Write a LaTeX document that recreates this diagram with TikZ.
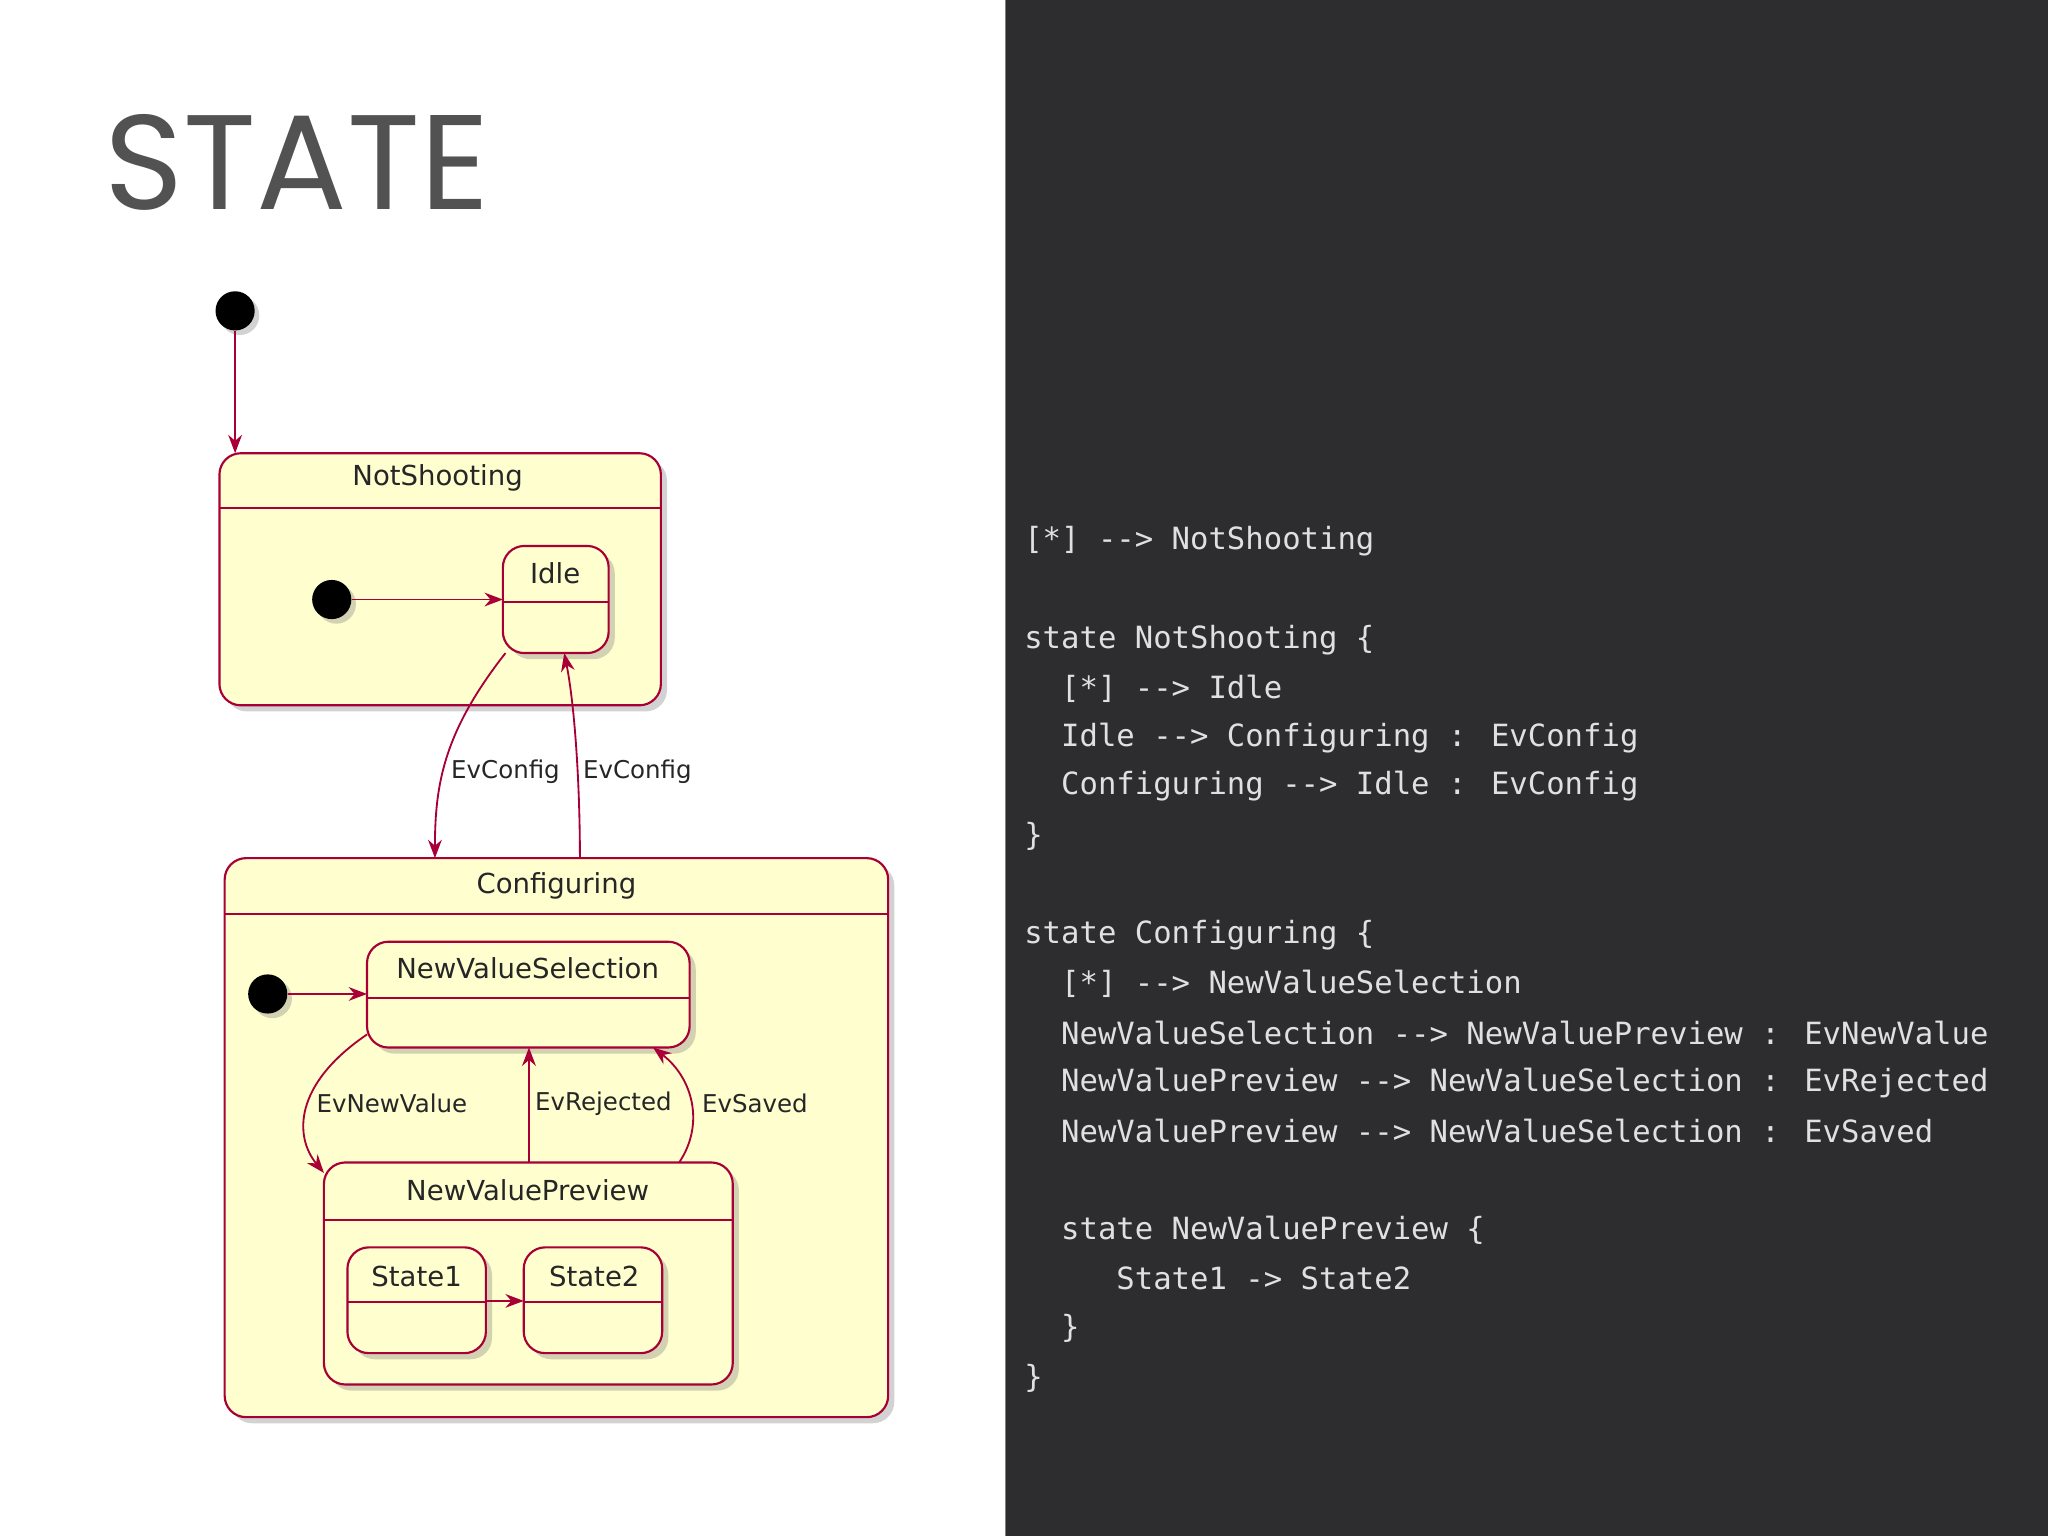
\documentclass[tikz,border=0pt]{standalone}
\usepackage{fontspec}
\setmainfont{DejaVu Sans}
\newfontfamily\monof{DejaVu Sans Mono}
\newfontfamily\titlef{Poppins}
\usetikzlibrary{shadows,arrows.meta}
\definecolor{pfill}{HTML}{FEFECE}
\definecolor{pline}{HTML}{A80036}
\definecolor{panel}{HTML}{2D2D30}
\tikzset{
  st/.style={draw=pline,fill=pfill,line width=1.4pt,rounded corners=14pt,drop shadow={shadow xshift=4pt,shadow yshift=-4pt,opacity=0.35}},
  ini/.style={circle,fill=black,minimum size=30*0.03cm,inner sep=0,drop shadow={shadow xshift=3pt,shadow yshift=-3pt,opacity=0.35}},
  tr/.style={draw=pline,line width=1.2pt,-{Stealth[length=12pt,width=9pt]}},
  ttl/.style={font=\fontsize{18}{20}\selectfont,text=black!85},
  lbl/.style={font=\fontsize{16}{18}\selectfont,text=black!85},
  code/.style={font=\monof\fontsize{20}{24}\selectfont,text=white!88!black,anchor=west,inner sep=0}
}
\begin{document}
\begin{tikzpicture}[x=0.03cm,y=-0.03cm]
\useasboundingbox (0,0) rectangle (1568,1176);
\fill[white] (0,0) rectangle (1568,1176);
\fill[panel] (770,0) rectangle (1568,1176);
\draw[gray,line width=1pt] (770,0) -- (770,1176);
\node[font=\titlef\fontsize{88}{90}\selectfont,text=black!68,anchor=west,inner sep=0] (title) at (80,124) {STATE};
% code
\foreach \t/\y in {{[*] --> NotShooting}/414,{state NotShooting \{}/490,{\ \ [*] --> Idle}/527,{\ \ Idle --> Configuring : EvConfig}/565,{\ \ Configuring --> Idle : EvConfig}/602,{\}}/640,{state Configuring \{}/716,{\ \ [*] --> NewValueSelection}/753,{\ \ NewValueSelection --> NewValuePreview : EvNewValue}/791,{\ \ NewValuePreview --> NewValueSelection : EvRejected}/829,{\ \ NewValuePreview --> NewValueSelection : EvSaved}/866,{\ \ state NewValuePreview \{}/942,{\ \ \ \ \ State1 -> State2}/979,{\ \ \}}/1017,{\}}/1055}
  \node[code] at (784,\y) {\t};
% states
\path[st] (168,347) rectangle (506,540);
\draw[pline,line width=1.4pt] (168,389) -- (506,389);
\node[ttl] (ns) at (335,366) {NotShooting};
\path[st] (385,418) rectangle (466,500);
\draw[pline,line width=1.4pt] (385,461) -- (466,461);
\node[ttl] (idle) at (425,439) {Idle};
\path[st] (172,657) rectangle (680,1085);
\draw[pline,line width=1.4pt] (172,700) -- (680,700);
\node[ttl] (cf) at (426,678) {Configuring};
\path[st] (281,721) rectangle (528,802);
\draw[pline,line width=1.4pt] (281,764) -- (528,764);
\node[ttl] (nvs) at (404,741) {NewValueSelection};
\path[st] (248,890) rectangle (561,1060);
\draw[pline,line width=1.4pt] (248,934) -- (561,934);
\node[ttl] (nvp) at (404,911) {NewValuePreview};
\path[st] (266,955) rectangle (372,1036);
\draw[pline,line width=1.4pt] (266,997) -- (372,997);
\node[ttl] (s1) at (319,977) {State1};
\path[st] (401,955) rectangle (507,1036);
\draw[pline,line width=1.4pt] (401,997) -- (507,997);
\node[ttl] (s2) at (455,977) {State2};
% initials
\node[ini] (i0) at (180,238) {};
\node[ini] (i1) at (254,459) {};
\node[ini] (i2) at (205,761) {};
\coordinate (nsT) at (180,347);
\coordinate (idleL) at (385,459);
\coordinate (nvsL) at (281,761);
\coordinate (idleB1) at (387,500);
\coordinate (idleB2) at (432,500);
\coordinate (cfT1) at (333,657);
\coordinate (cfT2) at (444,657);
\coordinate (nvsBL) at (281,792);
\coordinate (nvpTL) at (248,898);
\coordinate (nvsB1) at (405,802);
\coordinate (nvsB2) at (500,802);
\coordinate (nvpT1) at (405,890);
\coordinate (nvpT2) at (520,890);
\coordinate (s1R) at (372,996);
\coordinate (s2L) at (401,996);
\draw[tr] (i0) -- (nsT);
\draw[tr] (i1) -- (idleL);
\draw[tr] (i2) -- (nvsL);
\draw[tr] (idleB1) .. controls (340,560) and (333,600) .. (cfT1);
\draw[tr] (cfT2) .. controls (444,600) and (440,540) .. (idleB2);
\draw[tr] (nvsBL) .. controls (225,830) and (225,870) .. (nvpTL);
\draw[tr] (nvpT1) -- (nvsB1);
\draw[tr] (nvpT2) .. controls (540,860) and (530,825) .. (nvsB2);
\draw[tr] (s1R) -- (s2L);
\node[lbl] (l1) at (387,591) {EvConfig};
\node[lbl] (l2) at (488,591) {EvConfig};
\node[lbl] (l3) at (300,845) {EvNewValue};
\node[lbl] (l4) at (462,845) {EvRejected};
\node[lbl] (l5) at (578,845) {EvSaved};
\end{tikzpicture}
\end{document}
